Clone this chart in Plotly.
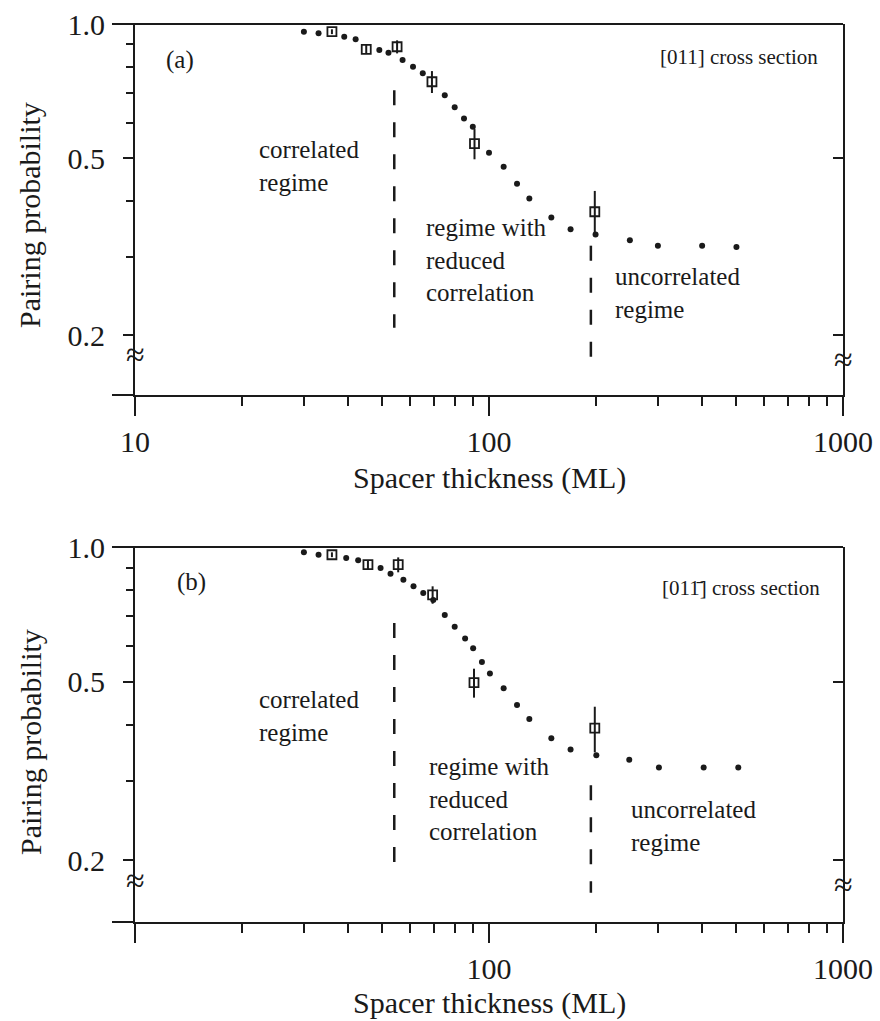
import math
import plotly.graph_objects as go

# ---------------- data ----------------
# Panel (a): [011] cross section
a_dot_x = [30, 33, 39, 42, 49, 52, 57, 61, 65, 75, 80, 85, 90, 100, 110, 120, 130, 150, 170, 200, 250, 300, 400, 500]
a_dot_y = [0.961, 0.953, 0.936, 0.924, 0.874, 0.862, 0.830, 0.802, 0.775, 0.692, 0.650, 0.614, 0.588, 0.514,
           0.478, 0.438, 0.406, 0.368, 0.346, 0.337, 0.327, 0.318, 0.318, 0.316]
a_sq_x = [36, 45, 55, 69, 91, 199]
a_sq_y = [0.961, 0.877, 0.889, 0.742, 0.539, 0.379]
a_sq_err = [0.012, 0.02, 0.03, 0.042, 0.042, 0.043]

# Panel (b): [01-1] cross section
b_dot_x = [30, 33, 39.5, 42.7, 49.4, 52.7, 57.3, 61.2, 65.2, 69.6, 75, 80, 85.6, 90.2, 95.5, 100.6, 110, 120,
           130, 150, 170, 201, 249, 302, 404, 506]
b_dot_y = [0.973, 0.961, 0.945, 0.934, 0.898, 0.872, 0.845, 0.817, 0.789, 0.762, 0.705, 0.664, 0.625, 0.594,
           0.554, 0.522, 0.484, 0.444, 0.413, 0.374, 0.353, 0.343, 0.335, 0.322, 0.322, 0.322]
b_sq_x = [36, 45.5, 55.4, 69.3, 90.7, 199]
b_sq_y = [0.961, 0.913, 0.913, 0.782, 0.498, 0.394]
b_sq_err = [0.012, 0.02, 0.035, 0.035, 0.037, 0.046]

# regime boundaries (dashed lines)
boundary_x = [54, 194]
a_boundary_y = [[0.71, 0.208], [0.318, 0.178]]
b_boundary_y = [[0.677, 0.197], [0.294, 0.169]]

x_major = [10, 100, 1000]
a_x_labels = ["10", "100", "1000"]
b_x_labels = ["", "100", "1000"]
x_minor = [20, 30, 40, 50, 60, 70, 80, 90, 200, 300, 400, 500, 600, 700, 800, 900]
y_major = [0.2, 0.5, 1.0]
y_major_labels = ["0.2", "0.5", "1.0"]
y_minor = [0.3, 0.4, 0.6, 0.7, 0.8, 0.9]

# ---------------- style ----------------
INK = "#1a1a1a"
FONT = "Liberation Serif"
W, H = 880, 1021

fig = go.Figure()


def add_panel(xa, ya, dx, dy, sx, sy, se, by):
    for bx, yy in zip(boundary_x, by):
        fig.add_trace(go.Scatter(x=[bx, bx], y=yy, mode="lines", xaxis=xa, yaxis=ya,
                                 line=dict(color=INK, width=2.5, dash="15px,17px"),
                                 showlegend=False, hoverinfo="skip"))
    fig.add_trace(go.Scatter(x=dx, y=dy, mode="markers", xaxis=xa, yaxis=ya,
                             marker=dict(symbol="circle", size=6, color=INK),
                             showlegend=False))
    fig.add_trace(go.Scatter(x=sx, y=sy, mode="markers", xaxis=xa, yaxis=ya,
                             marker=dict(symbol="square-open", size=9, color=INK, line=dict(width=1.8)),
                             error_y=dict(type="data", array=se, visible=True, color=INK,
                                          thickness=2, width=0),
                             showlegend=False))


add_panel("x", "y", a_dot_x, a_dot_y, a_sq_x, a_sq_y, a_sq_err, a_boundary_y)
add_panel("x2", "y2", b_dot_x, b_dot_y, b_sq_x, b_sq_y, b_sq_err, b_boundary_y)
# helper traces so the right-hand overlay axes are drawn
fig.add_trace(go.Scatter(x=[None], y=[None], xaxis="x", yaxis="y3", showlegend=False))
fig.add_trace(go.Scatter(x=[None], y=[None], xaxis="x2", yaxis="y4", showlegend=False))

xdom = [135 / W, 843 / W]
a_ydom = [1 - 395 / H, 1 - 24 / H]
b_ydom = [1 - 922 / H, 1 - 547 / H]
a_yrange = [math.log10(0.147), 0]
b_yrange = [math.log10(0.1455), 0]


def xaxis(labels, yanchor):
    return dict(domain=xdom, anchor=yanchor, type="log", range=[1, 3], automargin=False,
                tickmode="array", tickvals=x_major, ticktext=labels,
                ticks="outside", ticklen=19, tickwidth=2, tickcolor=INK,
                minor=dict(tickmode="array", tickvals=x_minor, ticks="outside", ticklen=9,
                           tickwidth=2, tickcolor=INK),
                showline=True, linewidth=2, linecolor=INK, showgrid=False, zeroline=False,
                tickfont=dict(family=FONT, size=30, color=INK))


def yaxis(dom, rng, xanchor):
    return dict(domain=dom, anchor=xanchor, type="log", range=rng, automargin=False,
                tickmode="array", tickvals=y_major, ticktext=y_major_labels,
                ticks="outside", ticklen=10, tickwidth=2, tickcolor=INK,
                ticklabelstandoff=12,
                minor=dict(tickmode="array", tickvals=y_minor, ticks="outside", ticklen=7,
                           tickwidth=2, tickcolor=INK),
                showline=True, linewidth=2, linecolor=INK, showgrid=False, zeroline=False,
                tickfont=dict(family=FONT, size=30, color=INK))


def yright(over, rng, xanchor):
    return dict(overlaying=over, side="right", anchor=xanchor, type="log", range=rng, automargin=False,
                tickmode="array", tickvals=[0.2, 0.5], ticks="inside", ticklen=10, tickwidth=2,
                tickcolor=INK, showticklabels=False, showline=True, linewidth=2, linecolor=INK,
                showgrid=False, zeroline=False)


fig.update_layout(
    width=W, height=H, margin=dict(l=0, r=0, t=0, b=0, pad=0, autoexpand=False),
    paper_bgcolor="white", plot_bgcolor="white", showlegend=False,
    xaxis=xaxis(a_x_labels, "y"), yaxis=yaxis(a_ydom, a_yrange, "x"),
    xaxis2=xaxis(b_x_labels, "y2"), yaxis2=yaxis(b_ydom, b_yrange, "x2"),
    yaxis3=yright("y", a_yrange, "x"), yaxis4=yright("y2", b_yrange, "x2"),
)

shapes = []
for xr, yr in [("x domain", "y domain"), ("x2 domain", "y2 domain")]:
    shapes.append(dict(type="line", xref=xr, yref=yr, x0=-0.0325, x1=1, y0=1, y1=1,
                       line=dict(color=INK, width=2)))
    shapes.append(dict(type="line", xref=xr, yref=yr, x0=-0.0325, x1=0, y0=0, y1=0,
                       line=dict(color=INK, width=2)))
fig.update_layout(shapes=shapes)

ann = []


def txt(text, xr, yr, x, y, size, xanchor="left", yanchor="middle", angle=0, align="left"):
    ann.append(dict(text=text, xref=xr, yref=yr, x=x, y=y, showarrow=False, xanchor=xanchor,
                    yanchor=yanchor, textangle=angle, align=align,
                    font=dict(family=FONT, size=size, color=INK)))


# panel (a)
txt("(a)", "x domain", "y domain", 0.0636, 0.903, 25, xanchor="center")
txt("[011] cross section", "x domain", "y domain", 0.9675, 0.911, 21, xanchor="right")
txt("correlated<br>regime", "x domain", "y domain", 0.172, 0.616, 25)
txt("regime with<br>reduced<br>correlation", "x domain", "y domain", 0.408, 0.365, 25)
txt("uncorrelated<br>regime", "x domain", "y domain", 0.675, 0.274, 25)
txt("≈", "x domain", "y domain", 0.0, 0.108, 34, xanchor="center")
txt("≈", "x domain", "y domain", 1.0, 0.095, 34, xanchor="center")
# panel (b)
txt("(b)", "x2 domain", "y2 domain", 0.080, 0.907, 25, xanchor="center")
txt("[011\u0304] cross section", "x2 domain", "y2 domain", 0.970, 0.891, 21, xanchor="right")
txt("correlated<br>regime", "x2 domain", "y2 domain", 0.172, 0.549, 25)
txt("regime with<br>reduced<br>correlation", "x2 domain", "y2 domain", 0.412, 0.327, 25)
txt("uncorrelated<br>regime", "x2 domain", "y2 domain", 0.698, 0.256, 25)
txt("≈", "x2 domain", "y2 domain", 0.0, 0.112, 34, xanchor="center")
txt("≈", "x2 domain", "y2 domain", 1.0, 0.099, 34, xanchor="center")

# axis titles
txt("Pairing probability", "paper", "paper", 30 / W, 1 - 215 / H, 30, xanchor="center", angle=-90)
txt("Pairing probability", "paper", "paper", 30 / W, 1 - 742 / H, 30, xanchor="center", angle=-90)
txt("Spacer thickness (ML)", "paper", "paper", 490 / W, 1 - 478 / H, 30, xanchor="center")
txt("Spacer thickness (ML)", "paper", "paper", 490 / W, 1 - 1003 / H, 30, xanchor="center")

fig.update_layout(annotations=ann)
fig.write_html("out.html", config={"displayModeBar": False},
               post_script="document.body.style.margin='0';document.body.style.overflow='hidden';")
